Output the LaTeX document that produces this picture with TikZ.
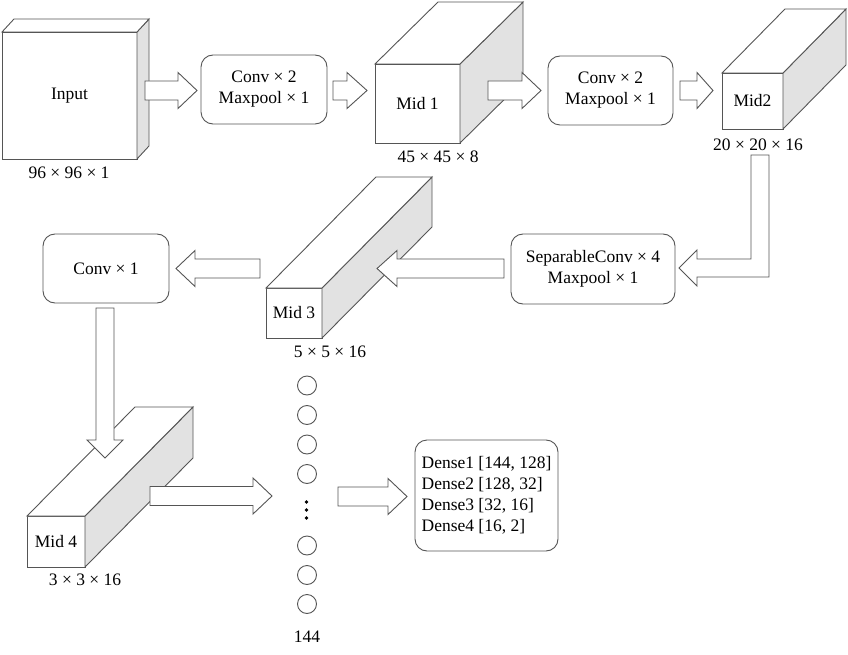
\documentclass[tikz,border=0pt]{standalone}
\usepackage{fontspec}
\setmainfont{Liberation Serif}
\usetikzlibrary{calc}
\definecolor{linegray}{RGB}{85,85,85}
\definecolor{sidegray}{RGB}{226,226,226}
\tikzset{
  face/.style={draw=linegray, line width=0.9pt, line join=miter},
  front/.style={face, fill=white, inner sep=0pt, outer sep=0pt},
  rbox/.style={draw=linegray, line width=0.9pt, rounded corners=12pt, fill=white, align=center, inner sep=0pt, outer sep=0pt},
  blockarrow/.style={draw=linegray, fill=white, line width=0.9pt, line join=miter},
  lab/.style={inner sep=0pt},
  neuron/.style={circle, draw=linegray, line width=0.9pt, minimum size=19pt, inner sep=0pt},
  dotnode/.style={circle, fill=black, minimum size=3.6pt, inner sep=0pt},
}
% cuboid faces from a front node: name, dx, dy
\newcommand\mycuboid[3]{%
  \draw[face, fill=sidegray] (#1.north east) -- ++(#2,#3) -- ($(#1.south east)+(#2,#3)$) -- (#1.south east) -- cycle;
  \draw[face, fill=white] (#1.north west) -- ++(#2,#3) -- ($(#1.north east)+(#2,#3)$) -- (#1.north east) -- cycle;}
% horizontal block arrow: start, end, signed head length
\newcommand\myharrow[3]{%
  \draw[blockarrow] ($(#1)+(0,-9.5)$) -- ($(#2)+({-(#3)},-9.5)$) -- ($(#2)+({-(#3)},-18)$) -- (#2) -- ($(#2)+({-(#3)},18)$) -- ($(#2)+({-(#3)},9.5)$) -- ($(#1)+(0,9.5)$) -- cycle;}
% vertical block arrow: start, end, signed head length
\newcommand\myvarrow[3]{%
  \draw[blockarrow] ($(#1)+(-9,0)$) -- ($(#2)+(-9,{-(#3)})$) -- ($(#2)+(-18,{-(#3)})$) -- (#2) -- ($(#2)+(18,{-(#3)})$) -- ($(#2)+(9,{-(#3)})$) -- ($(#1)+(9,0)$) -- cycle;}
\begin{document}
\begin{tikzpicture}[x=1pt, y=-1pt, font=\fontsize{17.5}{21}\selectfont]
\useasboundingbox (0,0) rectangle (848,655);

% cuboids
\node[front, minimum width=135pt, minimum height=127pt] (input) at (69.5,95.5) {Input};
\mycuboid{input}{12}{-13}
\node[front, minimum width=85pt, minimum height=79pt] (mid1) at (417.5,103.5) {Mid 1};
\mycuboid{mid1}{63}{-62}
\node[front, minimum width=61pt, minimum height=56pt] (mid2) at (752.5,101) {Mid2};
\mycuboid{mid2}{63}{-64}
\node[front, minimum width=56pt, minimum height=50pt] (mid3) at (294,313) {Mid 3};
\mycuboid{mid3}{110}{-111}
\node[front, minimum width=58pt, minimum height=51pt] (mid4) at (56,541.5) {Mid 4};
\mycuboid{mid4}{108}{-109}

% size labels
\node[lab] (linput) at (69,173) {96 × 96 × 1};
\node[lab] (lmid1) at (438,157) {45 × 45 × 8};
\node[lab] (lmid2) at (758,145) {20 × 20 × 16};
\node[lab] (lmid3) at (330,352) {5 × 5 × 16};
\node[lab] (lmid4) at (85,580) {3 × 3 × 16};

% operation boxes
\node[rbox, minimum width=126pt, minimum height=69pt] (conv1) at (264,89.5) {Conv × 2\\Maxpool × 1};
\node[rbox, minimum width=125pt, minimum height=69pt] (conv2) at (610.5,90.5) {Conv × 2\\Maxpool × 1};
\node[rbox, minimum width=164pt, minimum height=70pt] (sep) at (593,269) {SeparableConv × 4\\Maxpool × 1};
\node[rbox, minimum width=126pt, minimum height=69pt] (convone) at (106,268.5) {Conv × 1};
\node[rbox, minimum width=143pt, minimum height=111pt, align=left] (dense) at (486.5,495.5) {Dense1 [144, 128]\\Dense2 [128, 32]\\Dense3 [32, 16]\\Dense4 [16, 2]};

% neurons
\node[neuron] (n1) at (307,385.5) {};
\node[neuron] (n2) at (307,415) {};
\node[neuron] (n3) at (307,444.5) {};
\node[neuron] (n4) at (307,474) {};
\node[dotnode] (d1) at (306.5,502) {};
\node[dotnode] (d2) at (306.5,510) {};
\node[dotnode] (d3) at (306.5,518) {};
\node[neuron] (n5) at (307,545.5) {};
\node[neuron] (n6) at (307,575) {};
\node[neuron] (n7) at (307,604) {};
\node[lab] (l144) at (307,637) {144};

% arrow end points
\coordinate (a1s) at (145,90.5);  \coordinate (a1e) at (197,90.5);
\coordinate (a2s) at (333,90.5);  \coordinate (a2e) at (367,90.5);
\coordinate (a3s) at (488,90.5);  \coordinate (a3e) at (541,90.5);
\coordinate (a4s) at (680,90.5);  \coordinate (a4e) at (713,90.5);
\coordinate (a5s) at (504,268.5); \coordinate (a5e) at (377,268.5);
\coordinate (a6s) at (260,268.5); \coordinate (a6e) at (176,268.5);
\coordinate (a7s) at (105,308);   \coordinate (a7e) at (105,458);
\coordinate (a8s) at (150,496);   \coordinate (a8e) at (272,496);
\coordinate (a9s) at (338,496.5); \coordinate (a9e) at (407,496.5);

\myharrow{a1s}{a1e}{19}
\myharrow{a2s}{a2e}{20}
\myharrow{a3s}{a3e}{19}
\myharrow{a4s}{a4e}{16}
\myharrow{a5s}{a5e}{-20}
\myharrow{a6s}{a6e}{-19}
\myvarrow{a7s}{a7e}{18}
\myharrow{a8s}{a8e}{19}
\myharrow{a9s}{a9e}{19}

% L-shaped arrow from Mid2 to SeparableConv
\coordinate (ls) at (760,155);
\coordinate (le) at (679,268);
\draw[blockarrow] ($(ls)+(-9,0)$) -- ($(ls)+(9,0)$) -- (769,277) -- ($(le)+(18,9)$) -- ($(le)+(18,18)$) -- (le) -- ($(le)+(18,-18)$) -- ($(le)+(18,-9)$) -- (751,259) -- cycle;
\end{tikzpicture}
\end{document}
